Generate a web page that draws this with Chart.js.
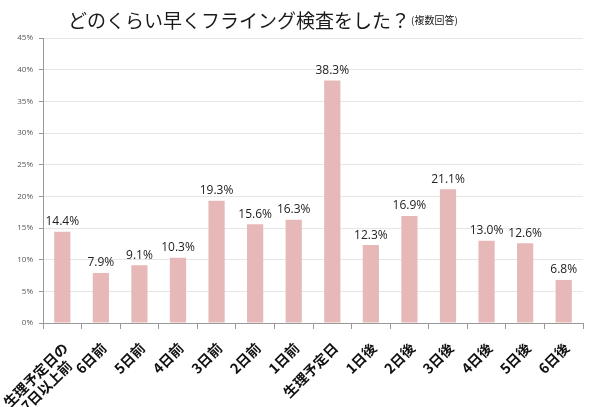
<!DOCTYPE html>
<html>
<head>
<meta charset="utf-8">
<script src="https://cdn.jsdelivr.net/npm/chart.js@4"></script>
<style>
  html, body { margin: 0; padding: 0; background: #fff; }
  #wrap { width: 600px; height: 407px; }
</style>
</head>
<body>
<div id="wrap"><canvas id="flyingChart"></canvas></div>
<script>
// categories (days relative to expected period)
// trailing spaces keep the 2nd line roughly centred under the 1st
var dayLabels = [
  ['生理予定日の', '7日以上前   '], '6日前', '5日前', '4日前', '3日前', '2日前', '1日前',
  '生理予定日', '1日後', '2日後', '3日後', '4日後', '5日後', '6日後'
];
// percent of answers
var answerShares = [14.4, 7.9, 9.1, 10.3, 19.3, 15.6, 16.3, 38.3, 12.3, 16.9, 21.1, 13.0, 12.6, 6.8];
var yTicks = [0, 5, 10, 15, 20, 25, 30, 35, 40, 45];

var titleText = 'どのくらい早くフライング検査をした？';
var subTitleText = '(複数回答)';

// title drawn by hand so the small "(複数回答)" can sit right after it
var titlePlugin = {
  id: 'titlePlugin',
  afterDraw: function(chart) {
    var ctx = chart.ctx;
    ctx.save();
    ctx.fillStyle = '#1a1a1a';
    ctx.textBaseline = 'middle';
    ctx.textAlign = 'left';
    ctx.font = '19px "Noto Sans CJK JP"';
    var w = ctx.measureText(titleText).width;
    var x0 = 68;
    ctx.fillText(titleText, x0, 21);
    ctx.font = '10px "Noto Sans CJK JP"';
    ctx.fillText(subTitleText, x0 + w + 1, 20);
    ctx.restore();
  }
};

// value labels above bars
var valueLabels = {
  id: 'valueLabels',
  afterDatasetsDraw: function(chart) {
    var ctx = chart.ctx;
    var meta = chart.getDatasetMeta(0);
    ctx.save();
    ctx.fillStyle = '#222';
    ctx.font = '12px "Open Sans"';
    ctx.textAlign = 'center';
    ctx.textBaseline = 'bottom';
    meta.data.forEach(function(bar, i) {
      ctx.fillText(answerShares[i].toFixed(1) + '%', bar.x, bar.y - 4);
    });
    ctx.restore();
  }
};

var ctx = document.getElementById('flyingChart');
var flyingChart = new Chart(ctx, {
  type: 'bar',
  data: {
    labels: dayLabels,
    datasets: [{
      data: answerShares,
      backgroundColor: '#e6b8b7',
      borderWidth: 0,
      barPercentage: 0.42,
      categoryPercentage: 1.0
    }]
  },
  options: {
    responsive: true,
    maintainAspectRatio: false,
    animation: false,
    layout: { padding: { top: 38, right: 17, left: 0, bottom: 0 } },
    plugins: {
      legend: { display: false },
      title: { display: false },
      tooltip: { enabled: false }
    },
    scales: {
      x: {
        grid: {
          offset: true,
          drawOnChartArea: false,
          tickLength: 6,
          tickColor: '#999'
        },
        border: { color: '#999', width: 1 },
        ticks: {
          autoSkip: false,
          minRotation: 45,
          maxRotation: 45,
          padding: 11,
          labelOffset: 3,
          color: '#111',
          font: { family: '"Noto Sans CJK JP"', size: 14, weight: 'bold', lineHeight: 1.1 }
        },
        afterFit: function(scale) {
          scale.height = 84;
          scale.paddingLeft = 0;
          scale.paddingRight = 0;
        }
      },
      y: {
        min: 0,
        max: 45,
        afterBuildTicks: function(scale) {
          scale.ticks = yTicks.map(function(v) { return { value: v }; });
        },
        grid: {
          color: '#e6e6e6',
          tickLength: 4,
          tickColor: '#999'
        },
        border: { color: '#999', width: 1 },
        ticks: {
          color: '#555',
          padding: 6,
          font: { family: '"Open Sans"', size: 8 },
          callback: function(v) { return v + '%'; }
        },
        afterFit: function(scale) { scale.width = 43; }
      }
    }
  },
  plugins: [titlePlugin, valueLabels]
});
</script>
</body>
</html>
